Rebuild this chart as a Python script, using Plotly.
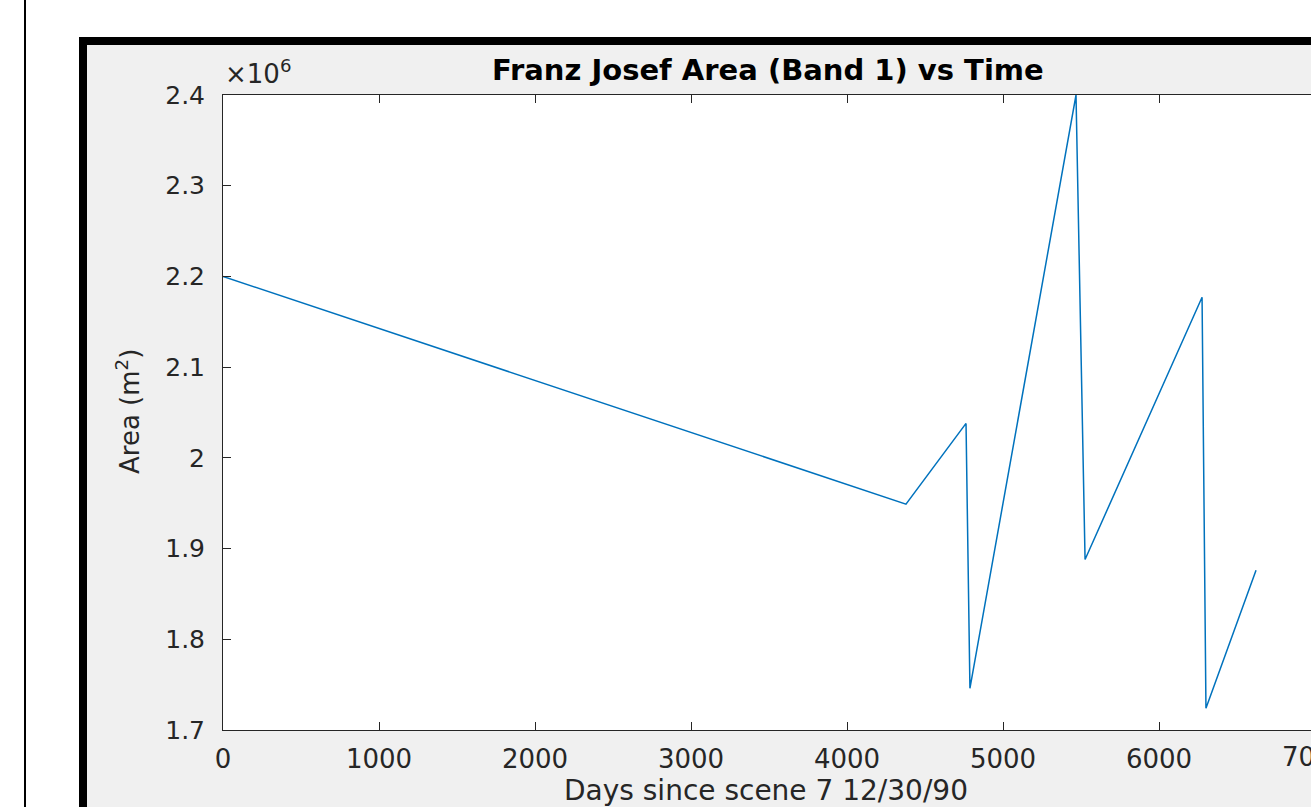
import plotly.graph_objects as go

# ---- data ----
days = [0, 4378, 4763, 4788, 5468, 5526, 6276, 6301, 6622]
area = [2.200e6, 1.949e6, 2.038e6, 1.746e6, 2.400e6, 1.888e6, 2.177e6, 1.724e6, 1.876e6]
x_ticks = [0, 1000, 2000, 3000, 4000, 5000, 6000, 7000]
y_ticks = [1.7e6, 1.8e6, 1.9e6, 2.0e6, 2.1e6, 2.2e6, 2.3e6, 2.4e6]
y_tick_text = ["1.7", "1.8", "1.9", "2", "2.1", "2.2", "2.3", "2.4"]
title = "Franz Josef Area (Band 1) vs Time"
x_label = "Days since scene 7 12/30/90"
y_label = "Area (m<sup>2</sup>)"

W, H = 1311, 807


def px(x):
    return x / W


def py(y):
    return 1 - y / H


AX_L, AX_R, AX_T, AX_B = 223, 1315, 95, 730

TXT = "#262626"
FONT = "DejaVu Sans"

fig = go.Figure()
fig.add_trace(go.Scatter(x=days, y=area, mode="lines",
                         line=dict(color="#0072BD", width=1.5),
                         showlegend=False, hoverinfo="skip"))

shapes = [
    dict(type="line", xref="paper", yref="paper", x0=px(25), x1=px(25), y0=py(-5), y1=py(830),
         line=dict(color="black", width=2), layer="below"),
    dict(type="rect", xref="paper", yref="paper", x0=px(79), x1=px(1400), y0=py(37), y1=py(900),
         fillcolor="black", line=dict(width=0), layer="below"),
    dict(type="rect", xref="paper", yref="paper", x0=px(87), x1=px(1400), y0=py(45), y1=py(900),
         fillcolor="#f0f0f0", line=dict(width=0), layer="below"),
    dict(type="rect", xref="paper", yref="paper", x0=px(AX_L), x1=px(AX_R), y0=py(AX_T), y1=py(AX_B),
         fillcolor="white", line=dict(width=0), layer="below"),
]

annotations = [
    dict(text="<b>" + title + "</b>", xref="paper", yref="paper", x=px(768), y=py(70),
         xanchor="center", yanchor="middle", showarrow=False,
         font=dict(family=FONT, size=29, color="black")),
    dict(text=x_label, xref="paper", yref="paper", x=px(766), y=py(790),
         xanchor="center", yanchor="middle", showarrow=False,
         font=dict(family=FONT, size=28, color=TXT)),
    dict(text=y_label, xref="paper", yref="paper", x=px(128), y=py(412),
         xanchor="center", yanchor="middle", showarrow=False, textangle=-90,
         font=dict(family=FONT, size=26, color=TXT)),
    dict(text="×10<sup>6</sup>", xref="paper", yref="paper", x=px(223), y=py(91),
         xanchor="left", yanchor="bottom", showarrow=False,
         font=dict(family=FONT, size=26, color=TXT)),
]

fig.update_layout(
    width=W, height=H,
    margin=dict(l=0, r=0, t=0, b=0, pad=0, autoexpand=False),
    paper_bgcolor="white", plot_bgcolor="rgba(0,0,0,0)",
    shapes=shapes, annotations=annotations,
    xaxis=dict(domain=[px(AX_L), 1], range=[0, 7000 * (W - AX_L) / (AX_R - AX_L)], tickvals=x_ticks,
               ticks="inside", ticklen=8, tickcolor=TXT, tickwidth=1,
               showline=True, linecolor=TXT, linewidth=1, mirror="ticks",
               showgrid=False, zeroline=False, ticklabelstandoff=6,
               tickfont=dict(family=FONT, size=26, color=TXT)),
    yaxis=dict(domain=[py(AX_B), py(AX_T)], range=[1.7e6, 2.4e6], tickvals=y_ticks,
               ticktext=y_tick_text,
               ticks="inside", ticklen=8, tickcolor=TXT, tickwidth=1,
               showline=True, linecolor=TXT, linewidth=1,
               showgrid=False, zeroline=False, ticklabelstandoff=12,
               tickfont=dict(family=FONT, size=25, color=TXT)),
    yaxis2=dict(overlaying="y", side="right", anchor="x", range=[1.7e6, 2.4e6],
                tickvals=y_ticks, ticks="inside", ticklen=8, tickcolor=TXT, tickwidth=1,
                showticklabels=False, showline=False, showgrid=False, zeroline=False),
)
fig.add_annotation(text=str(x_ticks[-1]), xref="paper", yref="paper", x=px(AX_R), y=py(757),
                   xanchor="center", yanchor="middle", showarrow=False,
                   font=dict(family=FONT, size=26, color=TXT))

fig.write_html(
    "out.html",
    config={"displayModeBar": False},
    post_script="document.body.style.margin='0';document.body.style.overflow='hidden';",
)
